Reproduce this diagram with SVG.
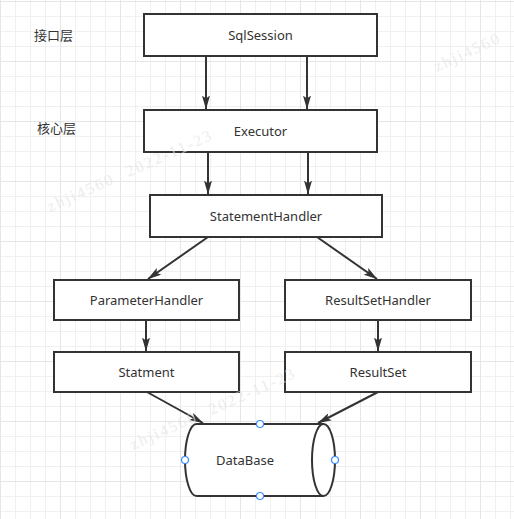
<svg xmlns="http://www.w3.org/2000/svg" width="514" height="519" viewBox="0 0 514 519">
<style>
.box{fill:#fff;stroke:#333;stroke-width:2}
.lbl{font-family:"Noto Sans","Noto Sans CJK SC",sans-serif;font-size:13px;fill:#333;text-anchor:middle;dominant-baseline:central}
.cn{font-family:"Noto Sans CJK SC","Noto Sans",sans-serif;font-size:13px;fill:#333;dominant-baseline:central}
.wm{font-family:"Liberation Serif",serif;font-size:16px;letter-spacing:2px;fill:#e4e4e4;fill-opacity:0.7}
.edge{stroke:#333;stroke-width:2;fill:none}
.pt{fill:#fff;stroke:#3d8bfd;stroke-width:1.2}
</style>
<defs>
<pattern id="minor" width="15" height="15" patternUnits="userSpaceOnUse" x="0" y="1">
<path d="M0.5 0V15M0 0.5H15" stroke="#f0f0f0" stroke-width="1" fill="none"/>
</pattern>
<pattern id="major" width="60" height="60" patternUnits="userSpaceOnUse" x="0" y="1">
<path d="M0.5 0V60M0 0.5H60" stroke="#e6e6e6" stroke-width="1" fill="none"/>
</pattern>
<marker id="arr" viewBox="0 0 14 8" refX="13.5" refY="4" markerWidth="7" markerHeight="4" markerUnits="strokeWidth" orient="auto">
<path d="M0 0L14 4L0 8L3 4Z" fill="#333"/>
</marker>
</defs>
<rect width="514" height="519" fill="#fff"/>
<rect width="514" height="519" fill="url(#minor)"/>
<rect width="514" height="519" fill="url(#major)"/>

<g id="layer-labels">
<text class="cn" x="34" y="34">接口层</text>
<text class="cn" x="37" y="127">核心层</text>
</g>

<g id="connectors">
<line class="edge" x1="206" y1="56" x2="206" y2="109" marker-end="url(#arr)"/>
<line class="edge" x1="307" y1="56" x2="307" y2="109" marker-end="url(#arr)"/>
<line class="edge" x1="208" y1="152" x2="208" y2="194" marker-end="url(#arr)"/>
<line class="edge" x1="308" y1="152" x2="308" y2="194" marker-end="url(#arr)"/>
<line class="edge" x1="208" y1="237" x2="148" y2="279" marker-end="url(#arr)"/>
<line class="edge" x1="317" y1="237" x2="377" y2="279" marker-end="url(#arr)"/>
<line class="edge" x1="146" y1="320" x2="146" y2="351" marker-end="url(#arr)"/>
<line class="edge" x1="378" y1="320" x2="378" y2="351" marker-end="url(#arr)"/>
<line class="edge" x1="147" y1="392" x2="203" y2="423" marker-end="url(#arr)"/>
<line class="edge" x1="378" y1="392" x2="318" y2="423" marker-end="url(#arr)"/>
</g>

<g id="SqlSession">
<rect class="box" x="144" y="14" width="233" height="42"/>
<text class="lbl" x="260.5" y="35">SqlSession</text>
</g>
<g id="Executor">
<rect class="box" x="144" y="110" width="233" height="42"/>
<text class="lbl" x="260.5" y="131">Executor</text>
</g>
<g id="StatementHandler">
<rect class="box" x="150" y="195" width="232" height="42"/>
<text class="lbl" x="266" y="216">StatementHandler</text>
</g>
<g id="ParameterHandler">
<rect class="box" x="54" y="280" width="185" height="40"/>
<text class="lbl" x="146.5" y="300">ParameterHandler</text>
</g>
<g id="ResultSetHandler">
<rect class="box" x="285" y="280" width="186" height="40"/>
<text class="lbl" x="378" y="300">ResultSetHandler</text>
</g>
<g id="Statment">
<rect class="box" x="54" y="352" width="185" height="40"/>
<text class="lbl" x="146.5" y="372">Statment</text>
</g>
<g id="ResultSet">
<rect class="box" x="285" y="352" width="186" height="40"/>
<text class="lbl" x="378" y="372">ResultSet</text>
</g>
<g id="DataBase">
<path class="box" d="M196.5 424H323.5A11.5 36 0 0 1 323.5 496H196.5A11.5 36 0 0 1 196.5 424Z"/>
<path class="edge" d="M323.5 424A11.5 36 0 0 0 323.5 496"/>
<text class="lbl" x="245" y="460">DataBase</text>
<circle class="pt" cx="260" cy="424" r="3.5"/>
<circle class="pt" cx="185" cy="460" r="3.5"/>
<circle class="pt" cx="335" cy="460" r="3.5"/>
<circle class="pt" cx="260" cy="496" r="3.5"/>
</g>

<g id="watermarks">
<text class="wm" transform="translate(50,212) rotate(-24)">zhji4560<tspan dx="14">2022-11-23</tspan></text>
<text class="wm" transform="translate(133,450) rotate(-24)">zhji4560<tspan dx="14">2022-11-23</tspan></text>
<text class="wm" transform="translate(437,72) rotate(-25)">zhji4560</text>
</g>
</svg>
